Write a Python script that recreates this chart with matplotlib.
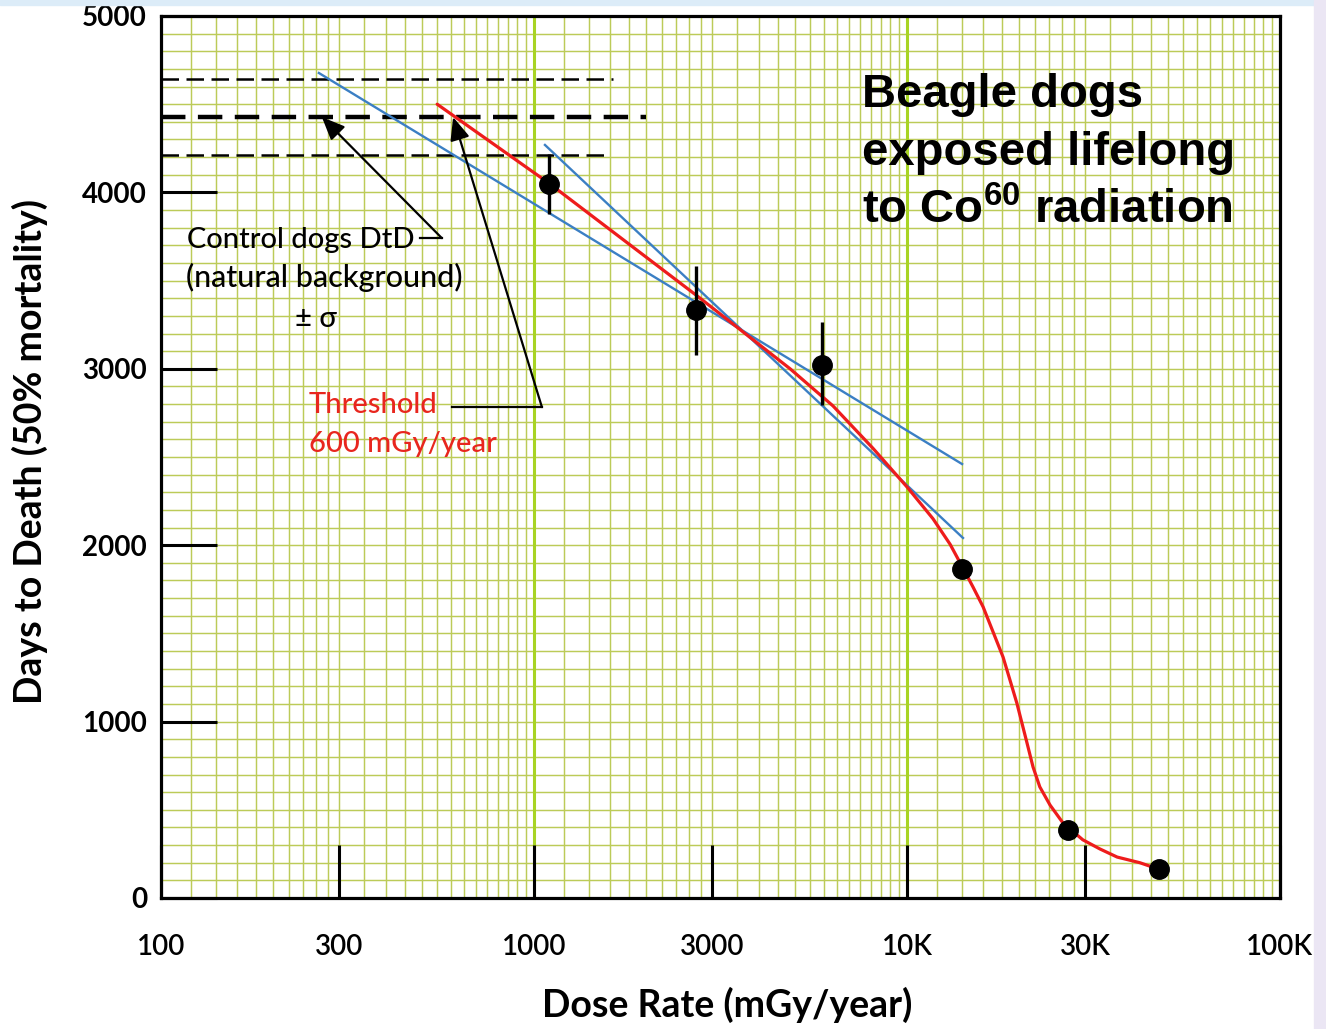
import numpy as np
import matplotlib
matplotlib.use("Agg")
import matplotlib.pyplot as plt
from matplotlib.patches import Rectangle

# ---- data ----
dose = [1100, 2720, 5920, 14050, 27000, 47400]          # mGy/year
days = [4050, 3335, 3020, 1865, 385, 165]               # days to death (50%)
err_dose = [1100, 2720, 5920]
err_low = [3880, 3080, 2795]
err_high = [4220, 3580, 3265]

red_dose = [550, 1100, 2750, 4860, 6330, 8100, 10050, 11740, 13050, 14130,
            15030, 16000, 18100, 18880, 19700, 20970, 21770, 22700, 24180,
            26200, 29600, 32900, 36600, 42100, 49800]
red_days = [4500, 4050, 3410, 3000, 2790, 2550, 2325, 2150, 2005, 1870,
            1763, 1650, 1365, 1236, 1105, 880, 743, 630, 527,
            425, 330, 278, 232, 200, 147]

blue_a_dose = [265, 14050]
blue_a_days = [4677, 2460]
blue_b_dose = [1070, 14130]
blue_b_days = [4269, 2041]

control_days = [4643, 4427, 4212]      # mean +/- sigma
control_end = [1630, 2000, 1550]

xtick_vals = [100, 300, 1000, 3000, 10000, 30000, 100000]
xtick_labels = ["100", "300", "1000", "3000", "10K", "30K", "100K"]
ytick_vals = [0, 1000, 2000, 3000, 4000, 5000]

W, H = 1326, 1029
fig = plt.figure(figsize=(W / 100, H / 100), dpi=100)
fig.patch.set_facecolor("white")


def fx(px):
    return px / W


def fy(py):
    return 1 - py / H


# slide border
fig.patches.append(Rectangle((0, fy(5)), 1, 5 / H, transform=fig.transFigure,
                             color="#dcecf8", zorder=0))
fig.patches.append(Rectangle((fx(1314), 0), 12 / W, 1, transform=fig.transFigure,
                             color="#ebe6f4", zorder=0))

ax = fig.add_axes([fx(161), fy(898), fx(1280) - fx(161), fy(16) - fy(898)])
ax.set_xscale("log")
ax.set_xlim(100, 100000)
ax.set_ylim(0, 5000)

# graph paper grid
grid_col = "#bccb58"
for dec in [100, 1000, 10000]:
    mults = list(np.arange(1.2, 3.0, 0.2)) + list(np.arange(3.0, 10.0, 0.5))
    for m in mults:
        ax.axvline(dec * m, color=grid_col, lw=1.05, zorder=0.5)
for d in [1000, 10000]:
    ax.axvline(d, color="#a8d424", lw=2.2, zorder=0.6)
for yv in range(100, 5000, 100):
    ax.axhline(yv, color=grid_col, lw=1.05, zorder=0.5)

# control dog lines
ax.plot([100, control_end[0]], [control_days[0]] * 2, color="black", lw=1.8,
        dashes=(7, 3), zorder=2)
ax.plot([100, control_end[1]], [control_days[1]] * 2, color="black", lw=3.2,
        dashes=(5.5, 2.8), zorder=2)
ax.plot([100, control_end[2]], [control_days[2]] * 2, color="black", lw=1.8,
        dashes=(7, 3), zorder=2)

# fits
ax.plot(blue_a_dose, blue_a_days, color="#3b7fc4", lw=1.7, zorder=3)
ax.plot(blue_b_dose, blue_b_days, color="#3b7fc4", lw=1.7, zorder=3)
ax.plot(red_dose, red_days, color="#ee1c1c", lw=2.3, zorder=4,
        solid_capstyle="round", solid_joinstyle="round")

# data with error bars
ax.vlines(err_dose, err_low, err_high, color="black", lw=2.4, zorder=5)
ax.plot(dose, days, "o", color="black", ms=14, zorder=6)

# arrows from labels to control line
ax.plot([494, 566], [3741, 3741], color="black", lw=1.6, zorder=3)
ax.annotate("", xy=(270, 4427), xytext=(566, 3741),
            arrowprops=dict(arrowstyle="-|>,head_length=0.7,head_width=0.3",
                            color="black", lw=1.6, shrinkA=0, shrinkB=0,
                            mutation_scale=20), zorder=3)
ax.plot([603, 1050], [2783, 2783], color="black", lw=1.6, zorder=3)
ax.annotate("", xy=(607, 4427), xytext=(1050, 2783),
            arrowprops=dict(arrowstyle="-|>,head_length=0.7,head_width=0.3",
                            color="black", lw=1.6, shrinkA=0, shrinkB=0,
                            mutation_scale=20), zorder=3)

# axes styling
for s in ax.spines.values():
    s.set_linewidth(2.3)
    s.set_color("black")
    s.set_zorder(7)
ax.set_facecolor("white")
ax.xaxis.set_major_locator(matplotlib.ticker.FixedLocator(xtick_vals))
ax.xaxis.set_minor_locator(matplotlib.ticker.NullLocator())
ax.set_xticklabels(xtick_labels)
ax.set_yticks(ytick_vals)
ax.tick_params(axis="x", direction="in", length=38, width=2.2, pad=26,
               labelsize=20)
ax.tick_params(axis="y", direction="in", length=40, width=2.2, pad=10,
               labelsize=20)
cal = ["Lato", "DejaVu Sans"]
for t in ax.get_xticklabels():
    t.set_family(cal)
    t.set_fontweight("semibold")
for t in ax.get_yticklabels():
    t.set_family(cal)
    t.set_fontweight("bold")

# axis titles
fig.text(fx(30), fy(452), "Days to Death (50% mortality)", rotation=90,
         ha="center", va="center", fontsize=27, fontweight="bold", family=cal)
fig.text(fx(727), fy(1005), "Dose Rate (mGy/year)", ha="center", va="center",
         fontsize=27, fontweight="bold", family=cal)

# annotations
fig.text(fx(187), fy(248), "Control dogs DtD", fontsize=21, family=cal,
         va="baseline", fontweight="medium")
fig.text(fx(186), fy(287), "(natural background)", fontsize=22, family=cal,
         va="baseline", fontweight="medium")
fig.text(fx(295), fy(327), "\u00b1 \u03c3", fontsize=21, family=cal,
         va="baseline", fontweight="medium")
fig.text(fx(309), fy(413), "Threshold", fontsize=21, family=cal,
         va="baseline", color="#e8261e", fontweight="medium")
fig.text(fx(309), fy(452), "600 mGy/year", fontsize=21, family=cal,
         va="baseline", color="#e8261e", fontweight="medium")

plt.rcParams["mathtext.fontset"] = "custom"
plt.rcParams["mathtext.rm"] = "Liberation Sans:bold"
plt.rcParams["mathtext.bf"] = "Liberation Sans:bold"
plt.rcParams["mathtext.it"] = "Liberation Sans:bold"
beagle = dict(fontsize=34, fontweight="bold", family="Liberation Sans",
              va="baseline", ha="left")
fig.text(fx(862), fy(107), "Beagle dogs", **beagle)
fig.text(fx(862), fy(165), "exposed lifelong", **beagle)
fig.text(fx(862), fy(223), r"to Co$^{\mathrm{60}}$ radiation", **beagle)

fig.savefig("out.png", dpi=100)
